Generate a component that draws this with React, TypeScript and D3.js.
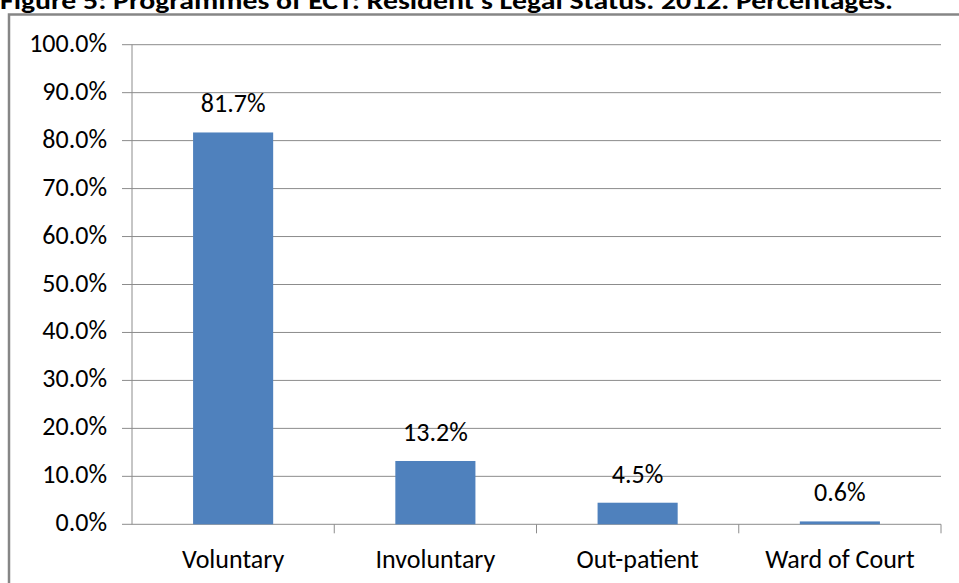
import React from "react";
import * as d3 from "d3";

const categories = ["Voluntary", "Involuntary", "Out-patient", "Ward of Court"];
const values = [81.7, 13.2, 4.5, 0.6];
const valueLabels = ["81.7%", "13.2%", "4.5%", "0.6%"];
const yTicks = [0, 10, 20, 30, 40, 50, 60, 70, 80, 90, 100];
const title = "Figure 5: Programmes of ECT: Resident\u2019s Legal Status. 2012. Percentages.";

export default function App() {
  const W = 959, H = 583;
  const left = 132, right = 941, top = 44.7, bottom = 524.3;
  const xb = d3.scaleBand<string>().domain(categories).range([left, right]);
  const y = d3.scaleLinear().domain([0, 100]).range([bottom, top]);
  const font = "Carlito, Calibri, Lato, 'Open Sans', sans-serif";
  const grid = "#8c8c8c";
  const barW = xb.bandwidth() * 0.396;
  return (
    <svg width={W} height={H} style={{ position: "absolute", left: 0, top: 0, background: "#fff" }}>
      <rect x={0} y={0} width={W} height={H} fill="#fff" />
      <text x={0} y={9} fontFamily={font} fontWeight="bold" fontSize={24} fill="#000"
        textLength={893} lengthAdjust="spacingAndGlyphs">{title}</text>
      <rect x={9} y={14.5} width={W + 20} height={H + 20} fill="none" stroke="#868686" strokeWidth={2.5} />
      {yTicks.map((t) => (
        <g key={t}>
          <line x1={left - 10} x2={right} y1={y(t)} y2={y(t)} stroke={grid} strokeWidth={1} />
          <text x={107} y={y(t) + 7} textAnchor="end" fontFamily={font} fontSize={26} fill="#000">
            {t.toFixed(1) + "%"}
          </text>
        </g>
      ))}
      <line x1={left} x2={left} y1={top} y2={bottom} stroke={grid} strokeWidth={1} />
      {categories.map((c, i) => (
        <line key={"t" + i} x1={(xb(c) as number) + xb.bandwidth()} x2={(xb(c) as number) + xb.bandwidth()}
          y1={bottom} y2={bottom + 9} stroke={grid} strokeWidth={1} />
      ))}
      {categories.map((c, i) => {
        const cx = (xb(c) as number) + xb.bandwidth() / 2;
        return (
          <g key={c}>
            <rect x={cx - barW / 2} y={y(values[i])} width={barW} height={bottom - y(values[i])} fill="#4F81BD" />
            <text x={cx} y={y(values[i]) - 20} textAnchor="middle" fontFamily={font} fontSize={26} fill="#000">
              {valueLabels[i]}
            </text>
            <text x={cx} y={568} textAnchor="middle" fontFamily={font} fontSize={26} fill="#000">
              {c}
            </text>
          </g>
        );
      })}
    </svg>
  );
}
